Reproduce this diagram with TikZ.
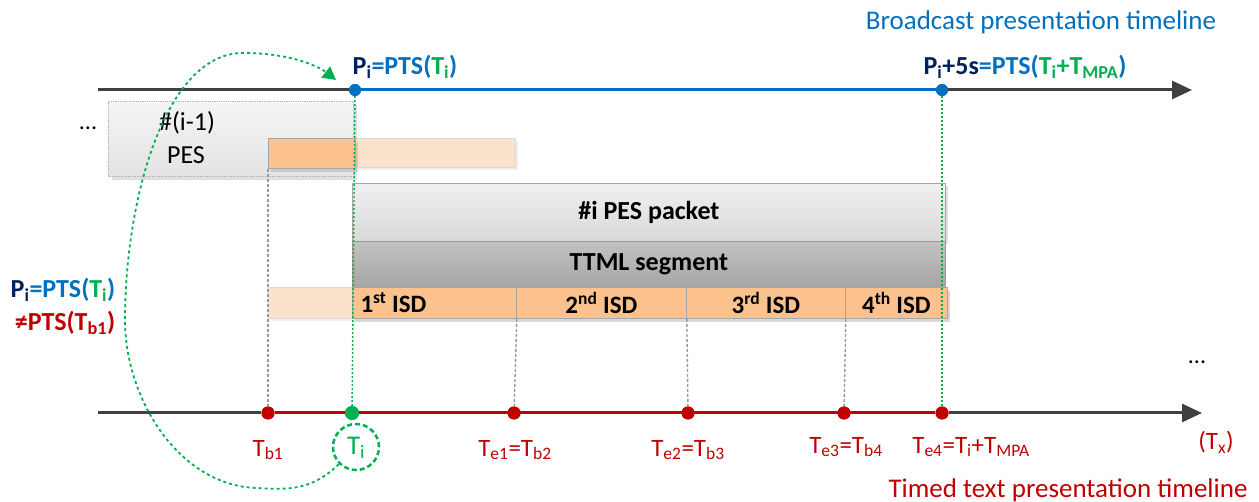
\documentclass[tikz,border=0pt]{standalone}
\usepackage{fontspec}
\setmainfont{Carlito}
\usetikzlibrary{arrows.meta,shadows,calc}
\definecolor{cblue}{RGB}{0,112,192}
\definecolor{cnavy}{RGB}{0,32,96}
\definecolor{cgreen}{RGB}{0,176,80}
\definecolor{cred}{RGB}{192,0,0}
\definecolor{caxis}{RGB}{64,64,64}
\definecolor{corange}{RGB}{252,194,142}
\definecolor{corangefade}{RGB}{250,226,204}
\definecolor{cgrayL}{RGB}{217,217,217}
\definecolor{cgrayD}{RGB}{165,165,165}
\newcommand\lo[1]{\textsubscript{#1}}
\newcommand\hi[1]{\textsuperscript{#1}}
\tikzset{
  axisline/.style={line width=3pt, draw=caxis},
  blueline/.style={line width=3pt, draw=cblue},
  redline/.style={line width=3pt, draw=cred},
  axisarrow/.style={line width=3pt, draw=caxis, -{Triangle[length=20pt,width=18pt]}},
  bdot/.style={circle, fill=cblue, minimum size=12pt, inner sep=0pt},
  rdot/.style={circle, fill=cred, minimum size=13pt, inner sep=0pt},
  gdot/.style={circle, fill=cgreen, minimum size=14pt, inner sep=0pt},
  gvline/.style={draw=cgreen, line width=1.4pt, dash pattern=on 2pt off 2pt},
  grvline/.style={draw=gray!80, line width=1.4pt, dash pattern=on 3pt off 2pt},
  gcurve/.style={draw=cgreen, line width=1.8pt, dash pattern=on 3pt off 3pt},
  boxtxt/.style={font=\fontsize{26}{30}\selectfont\bfseries, text=black},
  isdtxt/.style={font=\fontsize{25}{29}\selectfont\bfseries, text=black},
  lbl/.style={font=\fontsize{25}{29}\selectfont, text=cred},
  toplbl/.style={font=\fontsize{26}{30}\selectfont\bfseries},
  prevbox/.style={anchor=north west, inner sep=0pt, top color=gray!8, bottom color=gray!22,
     draw=gray!60, densely dotted, line width=0.8pt, drop shadow={shadow xshift=4pt, shadow yshift=-4pt, fill=gray!50}},
  pesbox/.style={anchor=north west, inner sep=0pt, top color=gray!12, bottom color=cgrayL, draw=gray!70, line width=0.8pt},
  ttmlbox/.style={anchor=north west, inner sep=0pt, top color=gray!48, bottom color=cgrayD, draw=gray!80, line width=0.8pt},
  isdbox/.style={anchor=north west, inner sep=0pt, fill=corange, draw=gray!70, line width=0.8pt,
     drop shadow={shadow xshift=3pt, shadow yshift=-4pt, fill=gray!60}},
  fadebox/.style={anchor=north west, inner sep=0pt, fill=corangefade, draw=gray!30, line width=0.6pt}
}
\begin{document}
\begin{tikzpicture}[x=1pt,y=-1pt]
\useasboundingbox (0,0) rectangle (1259,502);

% ---- boxes ----
\node[prevbox, minimum width=245pt, minimum height=75pt] (prev) at (108,101) {};
\node[font=\fontsize{26}{30}\selectfont] (prevt1) at (187,123) {\#(i-1)};
\node[font=\fontsize{26}{30}\selectfont] (prevt2) at (186,155) {PES};
\node (dots1) at (88,128) {\fontsize{24}{28}\selectfont ...};

\node[fadebox, minimum width=160pt, minimum height=29pt, drop shadow={shadow xshift=3pt, shadow yshift=-3pt, fill=gray!25}] (fade1) at (355,138) {};
\node[isdbox, minimum width=87pt, minimum height=30pt] (or1) at (268,138) {};

\node[pesbox, minimum width=593pt, minimum height=58pt, drop shadow={shadow xshift=3pt, shadow yshift=-3pt, fill=gray!50}] (pes) at (352,183) {};
\node[boxtxt] at (pes.center) {\#i PES packet};
\node[ttmlbox, minimum width=593pt, minimum height=46pt] (ttml) at (352,241) {};
\node[boxtxt] at (ttml.center) {TTML segment};

\node[fadebox, minimum width=84pt, minimum height=31pt, drop shadow={shadow xshift=3pt, shadow yshift=-3pt, fill=gray!25}] (fade2) at (268,287) {};
\node[isdbox, minimum width=164pt, minimum height=31pt] (isd1) at (352,287) {};
\node[isdbox, minimum width=170pt, minimum height=31pt] (isd2) at (516,287) {};
\node[isdbox, minimum width=159pt, minimum height=31pt] (isd3) at (686,287) {};
\node[isdbox, minimum width=102pt, minimum height=31pt] (isd4) at (845,287) {};
\node[isdtxt, anchor=west] at ($(isd1.west)+(5,0)$) {1\hi{st} ISD};
\node[isdtxt] at (isd2.center) {2\hi{nd} ISD};
\node[isdtxt] at (isd3.center) {3\hi{rd} ISD};
\node[isdtxt] at (isd4.center) {4\hi{th} ISD};

% ---- top timeline ----
\coordinate (ta0) at (98,90);
\coordinate (ta1) at (1192,90);
\node[bdot] (pi) at (355,90) {};
\node[bdot] (pe) at (942,90) {};
\draw[axisline] (ta0) -- (pi);
\draw[blueline] (pi) -- (pe);
\draw[axisarrow] (pe) -- (ta1);

% ---- bottom timeline ----
\coordinate (ba0) at (98,413);
\coordinate (ba1) at (1202,413);
\node[rdot] (tb1) at (268,413) {};
\node[gdot] (ti) at (352,413) {};
\node[rdot] (te1) at (514,413) {};
\node[rdot] (te2) at (688,413) {};
\node[rdot] (te3) at (844,413) {};
\node[rdot] (te4) at (942,413) {};
\draw[axisline] (ba0) -- (tb1);
\draw[redline] (tb1) -- (te4);
\draw[axisarrow] (te4) -- (ba1);

% ---- vertical guides ----
\draw[grvline] (or1.south west) -- (tb1);
\draw[grvline] (isd1.south east) -- (te1);
\draw[grvline] (isd2.south east) -- (te2);
\draw[grvline] (isd3.south east) -- (te3);
\draw[gvline] (pi) -- (ti);
\draw[gvline] (pe) -- (te4);

\foreach \n/\s in {tb1/rdot,te1/rdot,te2/rdot,te3/rdot,te4/rdot,ti/gdot}{\node[\s] at (\n) {};}
\node[bdot] at (pi) {};
\node[bdot] at (pe) {};

% ---- labels ----
\node[font=\fontsize{27}{31}\selectfont, text=cblue] (title1) at (1041,22) {Broadcast presentation timeline};
\node[font=\fontsize{27}{31}\selectfont, text=cred] (title2) at (1068,490) {Timed text presentation timeline};

\node[toplbl] (lpi) at (405,67) {\textcolor{cnavy}{P\lo{i}}\textcolor{cblue}{=PTS(}\textcolor{cgreen}{T\lo{i}}\textcolor{cblue}{)}};
\node[toplbl] (lpe) at (1025,67) {\textcolor{cnavy}{P\lo{i}+5s}\textcolor{cblue}{=PTS(}\textcolor{cgreen}{T\lo{i}+T\lo{MPA}}\textcolor{cblue}{)}};

\node[toplbl] (lleft1) at (63,290) {\textcolor{cnavy}{P\lo{i}}\textcolor{cblue}{=PTS(}\textcolor{cgreen}{T\lo{i}}\textcolor{cblue}{)}};
\node[toplbl, text=cred] (lleft2) at (65,323) {≠PTS(T\lo{b1})};

\node[lbl] (ltb1) at (268,450) {T\lo{b1}};
\node[lbl, text=cgreen, font=\fontsize{27}{31}\selectfont] (lti) at (356,448) {T\lo{i}};
\node[circle, draw=cgreen, line width=2.5pt, dash pattern=on 5pt off 3pt, minimum size=46pt, inner sep=0pt] (ticirc) at (356,447) {};
\node[lbl] (lte1) at (515,450) {T\lo{e1}=T\lo{b2}};
\node[lbl] (lte2) at (688,450) {T\lo{e2}=T\lo{b3}};
\node[lbl] (lte3) at (846,447) {T\lo{e3}=T\lo{b4}};
\node[lbl] (lte4) at (971,447) {T\lo{e4}=T\lo{i}+T\lo{MPA}};
\node[lbl] (ltx) at (1216,442) {(T\lo{x})};
\node (dots2) at (1197,362) {\fontsize{24}{28}\selectfont ...};

% ---- curved arrow ----
\coordinate (cb) at (257,488);
\coordinate (cl) at (125,320);
\coordinate (ct) at (243,53);
\coordinate (ce) at (336,80);
\draw[gcurve, -{Triangle[length=13pt,width=14pt]}] (ticirc.south west)
  .. controls (312,490) and (290,490) .. (cb)
  .. controls (180,486) and (125,400) .. (cl)
  .. controls (125,200) and (165,53) .. (ct)
  .. controls (290,53) and (318,66) .. (ce);
\end{tikzpicture}
\end{document}
